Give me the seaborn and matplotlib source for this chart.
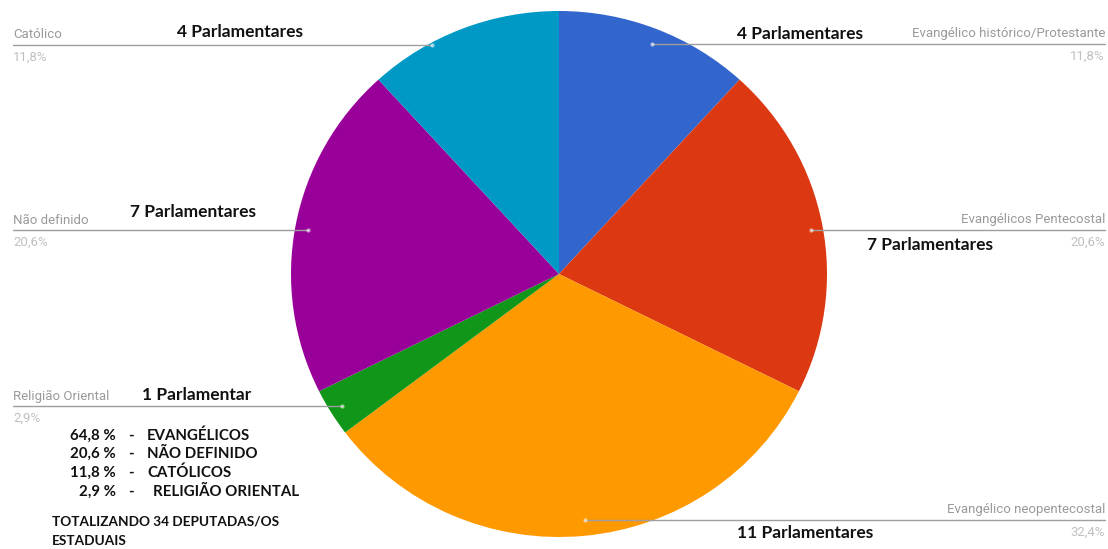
import matplotlib
matplotlib.use("Agg")
import matplotlib.pyplot as plt
from matplotlib.transforms import Affine2D
import seaborn as sns

# ---- data ----
categories = ["Evangélico histórico/Protestante", "Evangélicos Pentecostal",
              "Evangélico neopentecostal", "Religião Oriental",
              "Não definido", "Católico"]
parlamentares = [4, 7, 11, 1, 7, 4]
colors = ["#3366cc", "#dc3912", "#ff9900", "#109618", "#990099", "#0099c6"]

summary_pcts = [64.8, 20.6, 11.8, 2.9]
summary_groups = ["EVANGÉLICOS", "NÃO DEFINIDO", "CATÓLICOS", "RELIGIÃO ORIENTAL"]
total_text = ["TOTALIZANDO 34 DEPUTADAS/OS", "ESTADUAIS"]

sns.set_theme(style="white")
plt.rcParams["font.family"] = ["Roboto", "DejaVu Sans"]

W, H = 1108, 549
fig = plt.figure(figsize=(W / 100, H / 100), dpi=100)
ax = fig.add_axes([0, 0, 1, 1])

# pie geometry (pixels): centre and radii (source image is slightly stretched)
cx, cy, rx, ry = 559, 274, 268, 263
ax.pie(parlamentares, colors=colors, startangle=90, counterclock=False,
       radius=1, center=(0, 0), wedgeprops=dict(linewidth=0))
ax.set_aspect("auto")
ax.set_xlim(-cx / rx, (W - cx) / rx)
ax.set_ylim(-(H - cy) / ry, cy / ry)
ax.axis("off")

# pixel transform (origin top-left)
px = Affine2D().scale(1 / W, -1 / H).translate(0, 1) + fig.transFigure

total = sum(parlamentares)

def pct(v):
    return f"{100 * v / total:.1f}%".replace(".", ",")

BOLD = ["Lato", "DejaVu Sans"]

# label layout: (side, line_y, dot_x, bold_x, bold_y)
layout = {
    "Evangélico histórico/Protestante": ("R", 44, 652, 800, 34),
    "Evangélicos Pentecostal": ("R", 230, 811, 930, 245),
    "Evangélico neopentecostal": ("R", 520, 585, 805, 533),
    "Religião Oriental": ("L", 406, 342, 197, 395),
    "Não definido": ("L", 230, 308, 193, 212),
    "Católico": ("L", 45, 432, 240, 32),
}
xl, xr = 13, 1105
for cat, v in zip(categories, parlamentares):
    side, ly, dx, bx, by = layout[cat]
    if side == "L":
        ax.plot([xl, dx], [ly, ly], color="#9e9e9e", lw=1, transform=px, zorder=5)
        tx, ha = xl, "left"
    else:
        ax.plot([dx, xr], [ly, ly], color="#9e9e9e", lw=1, transform=px, zorder=5)
        tx, ha = xr, "right"
    ax.plot([dx], [ly], marker="o", ms=3, color="white", alpha=0.6,
            markeredgewidth=0, transform=px, zorder=6)
    ax.text(tx, ly - 10, cat, transform=px, ha=ha, va="center",
            fontsize=9.5, color="#9a9a9a")
    ax.text(tx, ly + 12, pct(v), transform=px, ha=ha, va="center",
            fontsize=9.5, color="#c0c0c0")
    label = f"{v} Parlamentares" if v > 1 else f"{v} Parlamentar"
    ax.text(bx, by, label, transform=px, ha="center", va="center",
            fontsize=12.5, fontweight="bold", color="#111111", family=BOLD)

# summary block
rows_y = [436, 454, 473, 492]
word_x = [147, 147, 147, 153]
for y, p, g, wx in zip(rows_y, summary_pcts, summary_groups, word_x):
    s = f"{p:.1f} %".replace(".", ",")
    ax.text(116, y, s, transform=px, ha="right", va="center", fontsize=10.8,
            fontweight="bold", color="#111111", family=BOLD)
    ax.text(131, y, "-", transform=px, ha="center", va="center", fontsize=10.8,
            fontweight="bold", color="#111111", family=BOLD)
    ax.text(wx, y, g, transform=px, ha="left", va="center", fontsize=10.8,
            fontweight="bold", color="#111111", family=BOLD)
for y, t in zip([522, 541], total_text):
    ax.text(52, y, t, transform=px, ha="left", va="center", fontsize=9.8,
            fontweight="bold", color="#111111", family=BOLD)

fig.savefig("out.png", dpi=100, facecolor="white")
